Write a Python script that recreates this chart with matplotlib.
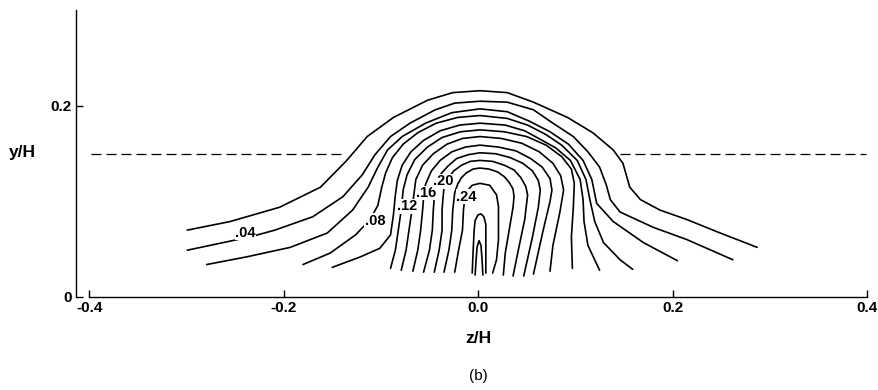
import matplotlib
matplotlib.use("Agg")
import matplotlib.pyplot as plt

plt.rcParams['font.family'] = ['Liberation Sans', 'DejaVu Sans']

# contour lines, (z/H, y/H), left end -> over the top -> right end
c02_z = [-0.299, -0.255, -0.204, -0.162, -0.135, -0.114, -0.087, -0.052, -0.026, 0.002, 0.030, 0.057, 0.092, 0.118, 0.139, 0.149, 0.156, 0.167, 0.187, 0.215, 0.249, 0.287]
c02_y = [0.070, 0.079, 0.094, 0.115, 0.143, 0.168, 0.188, 0.206, 0.214, 0.216, 0.214, 0.204, 0.188, 0.172, 0.154, 0.140, 0.115, 0.102, 0.091, 0.081, 0.067, 0.052]

c04_z = [-0.299, -0.234, -0.209, -0.170, -0.139, -0.119, -0.106, -0.090, -0.070, -0.044, -0.024, 0.002, 0.030, 0.057, 0.077, 0.098, 0.113, 0.125, 0.132, 0.136, 0.146, 0.180, 0.215, 0.262]
c04_y = [0.049, 0.063, 0.070, 0.084, 0.105, 0.128, 0.149, 0.168, 0.182, 0.196, 0.203, 0.205, 0.204, 0.196, 0.182, 0.168, 0.152, 0.136, 0.117, 0.102, 0.089, 0.073, 0.060, 0.039]

c06_z = [-0.279, -0.238, -0.193, -0.155, -0.129, -0.113, -0.103, -0.093, -0.078, -0.054, -0.027, 0.002, 0.030, 0.053, 0.074, 0.093, 0.108, 0.117, 0.122, 0.139, 0.170, 0.205]
c06_y = [0.034, 0.042, 0.052, 0.067, 0.091, 0.115, 0.136, 0.154, 0.168, 0.182, 0.193, 0.197, 0.194, 0.184, 0.173, 0.160, 0.143, 0.123, 0.098, 0.079, 0.057, 0.038]

c08_z = [-0.180, -0.152, -0.126, -0.111, -0.103, -0.099, -0.095, -0.088, -0.077, -0.062, -0.043, -0.021, 0.002, 0.030, 0.051, 0.070, 0.086, 0.102, 0.111, 0.115, 0.120, 0.129, 0.146, 0.159]
c08_y = [0.034, 0.046, 0.065, 0.081, 0.096, 0.115, 0.130, 0.146, 0.160, 0.172, 0.182, 0.188, 0.190, 0.187, 0.180, 0.170, 0.159, 0.143, 0.123, 0.102, 0.079, 0.057, 0.039, 0.029]

c10_z = [-0.150, -0.121, -0.101, -0.090, -0.087, -0.085, -0.083, -0.078, -0.069, -0.056, -0.039, -0.019, 0.002, 0.028, 0.048, 0.066, 0.080, 0.095, 0.105, 0.108, 0.109, 0.113, 0.125]
c10_y = [0.031, 0.042, 0.051, 0.065, 0.086, 0.107, 0.122, 0.138, 0.152, 0.164, 0.174, 0.180, 0.182, 0.180, 0.174, 0.164, 0.156, 0.143, 0.123, 0.102, 0.079, 0.054, 0.028]

c12_z = [-0.090, -0.085, -0.082, -0.079, -0.077, -0.073, -0.065, -0.052, -0.037, -0.018, 0.002, 0.027, 0.050, 0.070, 0.086, 0.096, 0.099, 0.098, 0.096, 0.097]
c12_y = [0.030, 0.049, 0.070, 0.091, 0.112, 0.128, 0.144, 0.157, 0.167, 0.173, 0.175, 0.173, 0.168, 0.159, 0.147, 0.134, 0.119, 0.094, 0.063, 0.030]

c14_z = [-0.079, -0.074, -0.071, -0.068, -0.066, -0.064, -0.057, -0.046, -0.032, -0.016, 0.002, 0.024, 0.045, 0.063, 0.077, 0.085, 0.088, 0.084, 0.077, 0.074]
c14_y = [0.028, 0.049, 0.070, 0.091, 0.107, 0.123, 0.138, 0.150, 0.160, 0.166, 0.168, 0.166, 0.161, 0.152, 0.140, 0.127, 0.112, 0.088, 0.054, 0.027]

c16_z = [-0.067, -0.062, -0.059, -0.057, -0.056, -0.054, -0.048, -0.039, -0.027, -0.013, 0.002, 0.021, 0.039, 0.054, 0.066, 0.074, 0.076, 0.074, 0.067, 0.057]
c16_y = [0.027, 0.049, 0.070, 0.091, 0.104, 0.118, 0.132, 0.143, 0.152, 0.157, 0.159, 0.157, 0.153, 0.145, 0.136, 0.124, 0.112, 0.100, 0.070, 0.024]

c18_z = [-0.056, -0.050, -0.047, -0.046, -0.045, -0.043, -0.039, -0.031, -0.022, -0.010, 0.002, 0.018, 0.033, 0.046, 0.056, 0.062, 0.064, 0.062, 0.056, 0.047]
c18_y = [0.026, 0.049, 0.070, 0.091, 0.104, 0.116, 0.128, 0.137, 0.145, 0.149, 0.151, 0.150, 0.146, 0.140, 0.132, 0.122, 0.112, 0.094, 0.063, 0.022]

c20_z = [-0.045, -0.040, -0.037, -0.037, -0.036, -0.035, -0.031, -0.025, -0.017, -0.008, 0.002, 0.015, 0.027, 0.037, 0.044, 0.049, 0.051, 0.048, 0.042, 0.036]
c20_y = [0.026, 0.049, 0.070, 0.091, 0.104, 0.114, 0.124, 0.132, 0.138, 0.142, 0.143, 0.142, 0.138, 0.133, 0.125, 0.116, 0.107, 0.081, 0.052, 0.022]

c22_z = [-0.035, -0.030, -0.027, -0.026, -0.025, -0.024, -0.021, -0.017, -0.012, -0.005, 0.002, 0.011, 0.020, 0.027, 0.032, 0.036, 0.037, 0.036, 0.032, 0.028, 0.026]
c22_y = [0.026, 0.049, 0.070, 0.091, 0.100, 0.109, 0.118, 0.125, 0.130, 0.134, 0.135, 0.134, 0.131, 0.126, 0.120, 0.113, 0.105, 0.094, 0.070, 0.046, 0.023]

c24_z = [-0.024, -0.020, -0.016, -0.015, -0.014, -0.012, -0.006, 0.002, 0.012, 0.019, 0.021, 0.021, 0.019, 0.015]
c24_y = [0.026, 0.049, 0.070, 0.091, 0.100, 0.110, 0.117, 0.119, 0.117, 0.107, 0.095, 0.060, 0.039, 0.025]

c26_z = [-0.006, -0.005, -0.004, -0.003, 0.000, 0.003, 0.006, 0.008, 0.008, 0.008, 0.008]
c26_y = [0.025, 0.049, 0.070, 0.080, 0.086, 0.087, 0.084, 0.076, 0.060, 0.039, 0.025]

c28_z = [-0.003, -0.002, -0.001, 0.001, 0.003, 0.004, 0.005]
c28_y = [0.023, 0.039, 0.052, 0.059, 0.054, 0.041, 0.023]

contours = [(c02_z, c02_y), (c04_z, c04_y), (c06_z, c06_y), (c08_z, c08_y),
            (c10_z, c10_y), (c12_z, c12_y), (c14_z, c14_y), (c16_z, c16_y),
            (c18_z, c18_y), (c20_z, c20_y), (c22_z, c22_y), (c24_z, c24_y),
            (c26_z, c26_y), (c28_z, c28_y)]

# contour labels and where they sit
label_text = ['.04', '.08', '.12', '.16', '.20', '.24']
label_z = [-0.239, -0.106, -0.073, -0.053, -0.036, -0.012]
label_y = [0.067, 0.080, 0.095, 0.109, 0.121, 0.105]

# dashed reference height, drawn outside the outer contour only
dash_y = 0.15
dash_left = (-0.398, -0.137)
dash_right = (0.146, 0.399)

xticks = [-0.4, -0.2, 0.0, 0.2, 0.4]
xticklabels = ['-0.4', '-0.2', '0.0', '0.2', '0.4']
yticks = [0.0, 0.2]
yticklabels = ['0', '0.2']

fig = plt.figure(figsize=(8.79, 3.9), dpi=100)
ax = fig.add_axes([0.0865, 0.2385, 0.9033, 0.7346])

for z, y in contours:
    ax.plot(z, y, color='black', lw=1.2, solid_joinstyle='round',
            solid_capstyle='round', zorder=2)

ax.plot(dash_left, [dash_y, dash_y], color='black', lw=0.9, ls=(0, (8, 4)))
ax.plot(dash_right, [dash_y, dash_y], color='black', lw=0.9, ls=(0, (8, 4)))

for t, z, y in zip(label_text, label_z, label_y):
    ax.text(z, y, t, fontsize=10.5, fontweight='bold', ha='center', va='center',
            zorder=3, bbox=dict(facecolor='white', edgecolor='none', pad=0.2))

ax.set_xlim(-0.4134, 0.4031)
ax.set_ylim(0, 0.3)

for side in ['top', 'right']:
    ax.spines[side].set_visible(False)
ax.spines['bottom'].set_bounds(-0.4, 0.4)
ax.spines['left'].set_bounds(0, 0.3)
ax.spines['bottom'].set_linewidth(1.0)
ax.spines['left'].set_linewidth(1.0)

ax.set_xticks(xticks)
ax.set_xticklabels(xticklabels, fontweight='bold', fontsize=11)
ax.set_yticks(yticks)
ax.set_yticklabels(yticklabels, fontweight='bold', fontsize=11)
ax.tick_params(direction='in', length=5, width=1.0, pad=3)

fig.text(0.026, 0.61, 'y/H', fontsize=12.5, fontweight='bold', ha='center', va='center')
fig.text(0.544, 0.133, 'z/H', fontsize=12.5, fontweight='bold', ha='center', va='center')
fig.text(0.544, 0.036, '(b)', fontsize=11, ha='center', va='center')

fig.savefig('out.png', dpi=100)
